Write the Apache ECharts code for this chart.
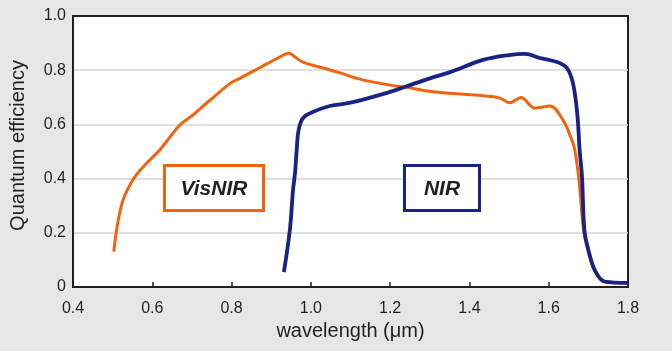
<!DOCTYPE html>
<html><head><meta charset="utf-8">
<script src="https://cdn.jsdelivr.net/npm/echarts@6/dist/echarts.min.js"></script>
<style>html,body{margin:0;padding:0;background:#e6e6e6}#c{width:672px;height:351px}</style>
</head><body><div id="c"></div>
<script>
const xTicks = [0.4,0.6,0.8,1.0,1.2,1.4,1.6,1.8];
const yTicks = [0,0.2,0.4,0.6,0.8,1.0];
const visnirWl = [0.503,0.511,0.526,0.551,0.577,0.619,0.645,0.67,0.703,0.746,0.8,0.821,0.872,0.917,0.945,0.96,0.98,1.031,1.074,1.121,1.2,1.25,1.3,1.351,1.434,1.475,1.502,1.53,1.565,1.603,1.636,1.659,1.666,1.676,1.688,1.7,1.716,1.74,1.8];
const visnirQE = [0.13,0.22,0.32,0.395,0.443,0.506,0.554,0.598,0.635,0.69,0.755,0.77,0.81,0.845,0.863,0.849,0.83,0.808,0.79,0.768,0.745,0.735,0.722,0.715,0.706,0.698,0.68,0.699,0.66,0.668,0.616,0.54,0.505,0.4,0.21,0.13,0.06,0.02,0.015];
const nirWl = [0.932,0.947,0.955,0.96,0.964,0.968,0.975,0.985,1.005,1.048,1.1,1.2,1.24,1.3,1.351,1.434,1.5,1.54,1.578,1.621,1.646,1.661,1.672,1.678,1.684,1.69,1.7,1.716,1.741,1.8];
const nirQE = [0.055,0.21,0.358,0.42,0.5,0.57,0.61,0.63,0.646,0.668,0.68,0.72,0.74,0.77,0.793,0.838,0.856,0.86,0.845,0.83,0.808,0.753,0.64,0.505,0.406,0.21,0.137,0.063,0.02,0.015];
const labels = ['VisNIR','NIR'];

const ink = '#231f20';
const orange = '#f0640f';
const navy = '#1a2286';
const font = 'Liberation Sans';
const chart = echarts.init(document.getElementById('c'));
chart.setOption({
  backgroundColor: '#e6e6e6',
  animation: false,
  grid: {left:73, right:44, top:16, bottom:64, show:true, backgroundColor:'#fff', borderColor:ink, borderWidth:2, outerBoundsMode:'none', containLabel:false},
  xAxis: {
    type:'value', min:0.4, max:1.8, interval:0.2,
    name:'wavelength (μm)', nameLocation:'middle', nameGap:33,
    nameTextStyle:{color:ink, fontSize:20, fontFamily:font},
    axisLine:{show:true, onZero:false, lineStyle:{color:ink, width:2}},
    axisTick:{show:true, inside:true, length:5, lineStyle:{color:ink, width:1.5}},
    axisLabel:{color:ink, fontSize:16, margin:14, fontFamily:font, formatter:v=>v.toFixed(1)},
    splitLine:{show:false}
  },
  yAxis: {
    type:'value', min:0, max:1.0, interval:0.2,
    name:'Quantum efficiency', nameLocation:'middle', nameGap:45,
    nameTextStyle:{color:ink, fontSize:20, fontFamily:font, padding:[0,0,0,12]},
    axisLine:{show:true, lineStyle:{color:ink, width:2}},
    axisTick:{show:false},
    axisLabel:{color:ink, fontSize:16, margin:7, fontFamily:font, formatter:v=>v===0?'0':v.toFixed(1)},
    splitLine:{show:true, showMinLine:false, showMaxLine:false, lineStyle:{color:'#d4d4d4', width:1.5}}
  },
  series: [
    {type:'line', name:labels[0], data:visnirWl.map((x,i)=>[x,visnirQE[i]]), showSymbol:false, smooth:0.35, lineStyle:{color:orange, width:3}, z:2},
    {type:'line', name:labels[1], data:nirWl.map((x,i)=>[x,nirQE[i]]), showSymbol:false, smooth:0.35, lineStyle:{color:navy, width:3.8}, z:3}
  ],
  graphic: [
    {type:'rect', shape:{x:164.5, y:165.5, width:99, height:45}, style:{fill:'#fff', stroke:orange, lineWidth:3}, z:10},
    {type:'text', x:214, y:189, style:{text:labels[0], font:'italic bold 21px "Liberation Sans"', fill:ink, align:'center', verticalAlign:'middle'}, z:11},
    {type:'rect', shape:{x:404.5, y:165.5, width:75, height:45}, style:{fill:'#fff', stroke:navy, lineWidth:3}, z:10},
    {type:'text', x:442, y:189, style:{text:labels[1], font:'italic bold 21px "Liberation Sans"', fill:ink, align:'center', verticalAlign:'middle'}, z:11}
  ]
});
</script></body></html>
